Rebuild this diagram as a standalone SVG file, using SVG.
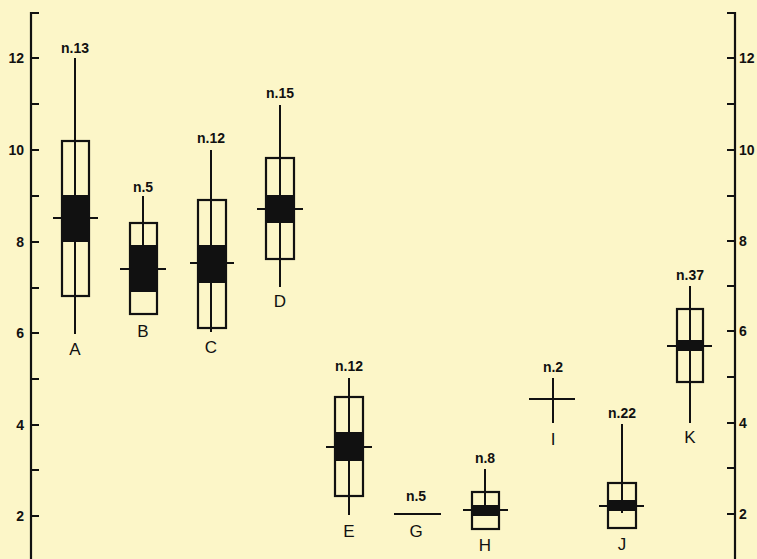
<svg xmlns="http://www.w3.org/2000/svg" width="757" height="559" viewBox="0 0 757 559">
<style>
.ax{stroke:#111;stroke-width:2.2;fill:none}
.ln{stroke:#111;stroke-width:2;fill:none}
.bx{stroke:#111;stroke-width:2.2;fill:none}
.bk{fill:#111;stroke:none}
.num{font-family:"Liberation Sans",Arial,sans-serif;font-weight:bold;font-size:14px;fill:#111}
.n{font-family:"Liberation Sans",Arial,sans-serif;font-weight:bold;font-size:14px;fill:#111;text-anchor:middle}
.lt{font-family:"Liberation Sans",Arial,sans-serif;font-size:17px;fill:#111;text-anchor:middle}
</style>
<rect x="0" y="0" width="757" height="559" fill="#fcf6c8"/>
<g id="left-axis">
<path class="ax" d="M39,13 H31 V559"/>
<path class="ax" d="M31,58 H39 M31,104 H39 M31,150 H39 M31,196 H39 M31,242 H39 M31,288 H39 M31,333 H39 M31,379 H39 M31,425 H39 M31,470 H39 M31,516 H39"/>
<text class="num" x="24" y="63" text-anchor="end">12</text>
<text class="num" x="24" y="155" text-anchor="end">10</text>
<text class="num" x="24" y="247" text-anchor="end">8</text>
<text class="num" x="24" y="338" text-anchor="end">6</text>
<text class="num" x="24" y="430" text-anchor="end">4</text>
<text class="num" x="24" y="521" text-anchor="end">2</text>
</g>
<g id="right-axis">
<path class="ax" d="M727,13 H735 V559"/>
<path class="ax" d="M735,58 H727 M735,104 H727 M735,150 H727 M735,196 H727 M735,241 H727 M735,286 H727 M735,331 H727 M735,377 H727 M735,423 H727 M735,468 H727 M735,514 H727"/>
<text class="num" x="739" y="63">12</text>
<text class="num" x="739" y="155">10</text>
<text class="num" x="739" y="246">8</text>
<text class="num" x="739" y="336">6</text>
<text class="num" x="739" y="428">4</text>
<text class="num" x="739" y="519">2</text>
</g>
<g id="connectors">
<path class="ln" d="M75,58 V334"/>
<path class="ln" d="M143,196 V245"/>
<path class="ln" d="M211,150 V332"/>
<path class="ln" d="M280,105 V287"/>
<path class="ln" d="M349,378 V515"/>
<path class="ln" d="M485,469 V505"/>
<path class="ln" d="M622,424 V513"/>
<path class="ln" d="M690,286 V423"/>
</g>
<g id="A">
<rect class="bx" x="62" y="141" width="27" height="155"/>
<rect class="bk" x="62" y="195" width="27" height="47"/>
<path class="ln" d="M53,218 H98"/>
<text class="n" x="75" y="53">n.13</text>
<text class="lt" x="75" y="355">A</text>
</g>
<g id="B">
<rect class="bx" x="130" y="223" width="27" height="91"/>
<rect class="bk" x="130" y="245" width="27" height="47"/>
<path class="ln" d="M120,269 H166"/>
<text class="n" x="143" y="192">n.5</text>
<text class="lt" x="143" y="337">B</text>
</g>
<g id="C">
<rect class="bx" x="198" y="200" width="28" height="128"/>
<rect class="bk" x="198" y="245" width="28" height="38"/>
<path class="ln" d="M190,263 H234"/>
<text class="n" x="211" y="143">n.12</text>
<text class="lt" x="211" y="353">C</text>
</g>
<g id="D">
<rect class="bx" x="266" y="158" width="28" height="101"/>
<rect class="bk" x="266" y="195" width="28" height="28"/>
<path class="ln" d="M257,209 H303"/>
<text class="n" x="280" y="98">n.15</text>
<text class="lt" x="280" y="307">D</text>
</g>
<g id="E">
<rect class="bx" x="335" y="397" width="28" height="99"/>
<rect class="bk" x="335" y="432" width="28" height="29"/>
<path class="ln" d="M326,447 H372"/>
<text class="n" x="349" y="371">n.12</text>
<text class="lt" x="349" y="537">E</text>
</g>
<g id="G">
<path class="ln" d="M394,514 H441"/>
<text class="n" x="416" y="501">n.5</text>
<text class="lt" x="416" y="537">G</text>
</g>
<g id="H">
<rect class="bx" x="472" y="492" width="27" height="37"/>
<rect class="bk" x="472" y="505" width="27" height="11"/>
<path class="ln" d="M463,510 H508"/>
<text class="n" x="485" y="463">n.8</text>
<text class="lt" x="485" y="551">H</text>
</g>
<g id="I">
<path class="ln" d="M553,378 V423 M529,399 H575"/>
<text class="n" x="553" y="372">n.2</text>
<text class="lt" x="553" y="445">I</text>
</g>
<g id="J">
<rect class="bx" x="608" y="483" width="28" height="45"/>
<rect class="bk" x="608" y="500" width="28" height="11"/>
<path class="ln" d="M599,506 H644"/>
<text class="n" x="622" y="418">n.22</text>
<text class="lt" x="622" y="550">J</text>
</g>
<g id="K">
<rect class="bx" x="677" y="309" width="26" height="73"/>
<rect class="bk" x="677" y="340" width="26" height="11"/>
<path class="ln" d="M667,346 H712"/>
<text class="n" x="690" y="280">n.37</text>
<text class="lt" x="690" y="443">K</text>
</g>
</svg>
